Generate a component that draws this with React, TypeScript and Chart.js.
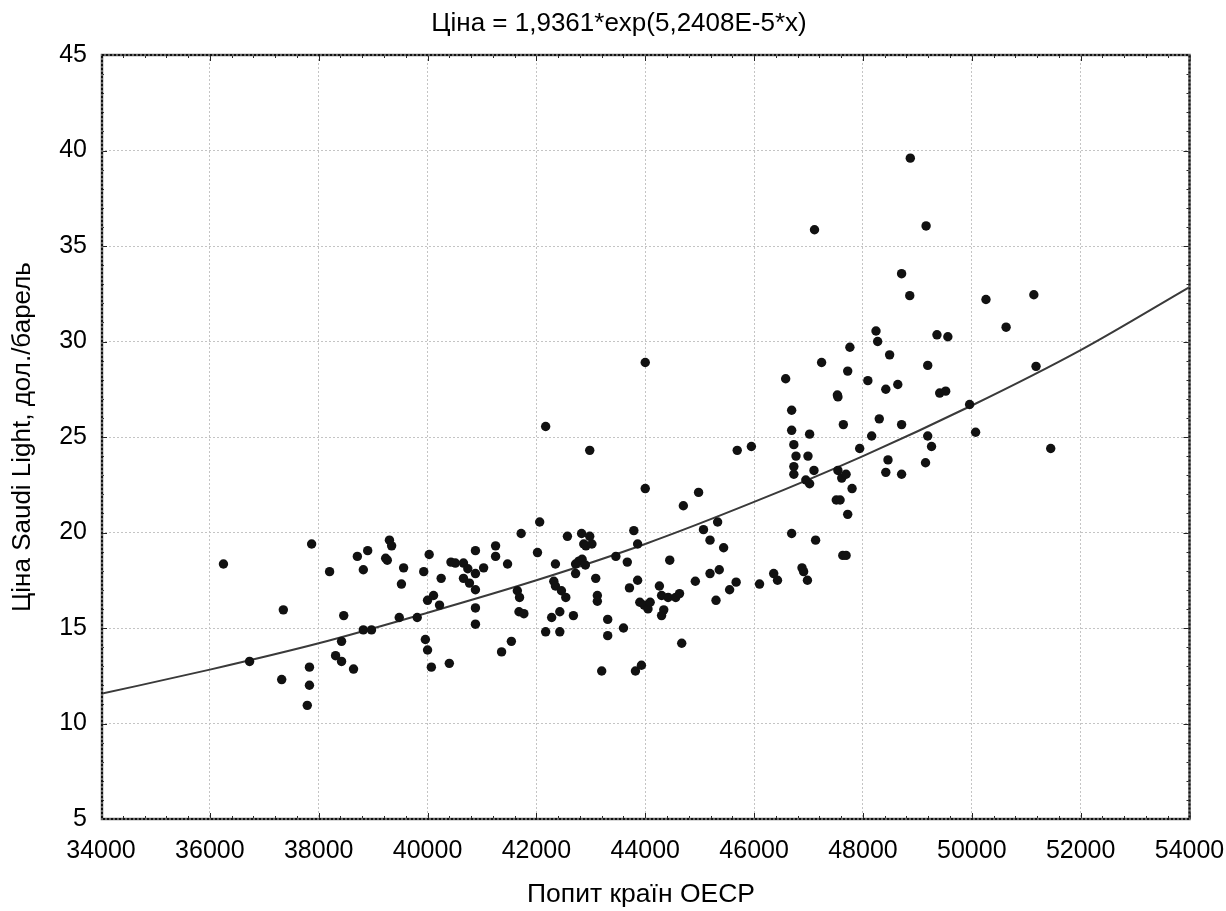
import React, { useEffect, useRef } from 'react';
import { Chart, registerables } from 'chart.js';

Chart.register(...registerables);

// Observed points: OECD demand (x) and Saudi Light price (y)
const demandOECD: number[] = [
  36250, 37870, 37350, 36730, 37320, 37830, 37830, 37790, 38200, 38710,
  38900, 38820, 39300, 39340, 39230, 39260, 39560, 39520, 40030, 39930,
  40250, 40430, 40510, 40660, 38460, 38420, 38310, 38420, 38640, 38820,
  38970, 39480, 39810, 40000, 40110, 40220, 39960, 40000, 40070, 40400,
  42170, 42980, 44000, 44980, 44700, 42060, 41720, 42570, 42830, 42980,
  42870, 42910, 43020, 43790, 43860, 41250, 40880, 42020, 41250, 40660,
  40740, 41030, 41470, 42350, 40880, 40770, 40880, 42720, 42780, 42840,
  42900, 42720, 43090, 43460, 43670, 44450, 44920, 42320, 42350, 42460,
  42540, 41650, 41690, 41680, 41770, 40880, 40880, 42430, 42280, 42680,
  43120, 43120, 43710, 43860, 44260, 43900, 43980, 44050, 44090, 44300,
  44420, 44560, 44630, 44340, 44300, 42170, 42430, 43310, 43310, 43600,
  44670, 41540, 41360, 43200, 43820, 43930, 44000,
  48710, 48860, 49360, 48240, 48270, 47760, 48490, 47240, 49190, 47720,
  46580, 48090, 48420, 48640, 49410, 47530, 47540, 46690, 47640, 48300,
  48710, 46690, 47020, 48160, 49190, 46730, 47940, 49260, 46770, 46990,
  46730, 46730, 47100, 47540, 48460, 49150, 48420, 48710, 47610, 47690,
  46950, 47020, 47800, 47510, 47580, 47720, 45690, 45950, 45330, 45070,
  45190, 45440, 46690, 47130, 47630, 47690, 45190, 45360, 45300, 45550,
  45670, 46100, 46360, 46430, 46880, 46910, 46980,
  49160, 47110, 48870, 50260, 51140, 50630, 49560, 51180, 49520, 49960,
  50070, 51450,
];

const priceSaudi: number[] = [
  18.35, 19.4, 15.95, 13.25, 12.3, 12.95, 12.0, 10.95, 17.95, 18.75,
  19.05, 18.05, 19.6, 19.3, 18.65, 18.55, 18.15, 17.3, 18.85, 17.95,
  17.6, 18.45, 18.4, 17.6, 15.65, 14.3, 13.55, 13.25, 12.85, 14.9,
  14.9, 15.55, 15.55, 16.45, 16.7, 16.2, 14.4, 13.85, 12.95, 13.15,
  25.55, 24.3, 22.3, 22.1, 21.4, 20.55, 19.95, 19.8, 19.95, 19.8,
  19.4, 19.3, 19.4, 20.1, 19.4, 19.3, 19.05, 18.95, 18.75, 18.4,
  18.1, 18.15, 18.35, 18.35, 17.85, 17.35, 17.0, 18.35, 18.5, 18.6,
  18.3, 17.85, 17.6, 18.75, 18.45, 18.55, 17.45, 17.45, 17.2, 16.95,
  16.6, 16.95, 16.6, 15.85, 15.75, 16.05, 15.2, 15.85, 15.55, 15.65,
  16.7, 16.4, 17.1, 17.5, 17.2, 16.35, 16.2, 16.0, 16.35, 16.7,
  16.6, 16.6, 16.8, 15.95, 15.65, 14.8, 14.8, 15.45, 14.6, 15.0,
  14.2, 14.3, 13.75, 12.75, 12.75, 13.05, 28.9,
  33.55, 32.4, 30.35, 30.55, 30.0, 29.7, 29.3, 28.9, 28.75, 28.45,
  28.05, 27.95, 27.5, 27.75, 27.3, 27.2, 27.1, 26.4, 25.65, 25.95,
  25.65, 25.35, 25.15, 25.05, 25.05, 24.6, 24.4, 24.5, 24.0, 24.0,
  23.45, 23.05, 23.25, 23.25, 23.8, 23.65, 23.15, 23.05, 22.85, 23.05,
  22.75, 22.55, 22.3, 21.7, 21.7, 20.95, 24.3, 24.5, 20.55, 20.15,
  19.6, 19.2, 19.95, 19.6, 18.8, 18.8, 17.85, 18.05, 16.45, 17.0,
  17.4, 17.3, 17.85, 17.5, 18.15, 17.95, 17.5,
  36.05, 35.85, 39.6, 32.2, 32.45, 30.75, 30.25, 28.7, 27.4, 26.7,
  25.25, 24.4,
];

// Fitted curve, values at each major x tick
const fitDemand: number[] = [34000, 36000, 38000, 40000, 42000, 44000, 46000, 48000, 50000, 52000, 54000];
const fitPrice: number[] = [11.55, 12.82, 14.2, 15.8, 17.5, 19.4, 21.6, 24.0, 26.65, 29.55, 32.85];

const xTickValues: number[] = [34000, 36000, 38000, 40000, 42000, 44000, 46000, 48000, 50000, 52000, 54000];
const yTickValues: number[] = [5, 10, 15, 20, 25, 30, 35, 40, 45];

const TITLE = 'Ціна = 1,9361*exp(5,2408E-5*x)';
const X_TITLE = 'Попит країн OECP';
const Y_TITLE = 'Ціна Saudi Light, дол./барель';

const FONT = '"Liberation Sans", Arial, Helvetica, sans-serif';
const X_MINOR = 400;
const Y_MINOR = 1;

const framePlugin = {
  id: 'statFrame',
  afterDatasetsDraw(chart: any) {
    const { ctx, chartArea } = chart;
    const { left, right, top, bottom } = chartArea;
    const xs = chart.scales.x;
    const ys = chart.scales.y;
    ctx.save();
    ctx.strokeStyle = '#222';
    ctx.lineWidth = 1;
    ctx.setLineDash([]);
    const xMin = xTickValues[0];
    const xMax = xTickValues[xTickValues.length - 1];
    for (let v = xMin; v <= xMax + 1e-6; v += X_MINOR) {
      const px = Math.round(xs.getPixelForValue(v)) + 0.5;
      const major = xTickValues.includes(Math.round(v));
      const len = major ? 6 : 3;
      ctx.beginPath();
      ctx.moveTo(px, top);
      ctx.lineTo(px, top + len);
      ctx.moveTo(px, bottom);
      ctx.lineTo(px, bottom - len);
      ctx.stroke();
    }
    const yMin = yTickValues[0];
    const yMax = yTickValues[yTickValues.length - 1];
    for (let v = yMin; v <= yMax + 1e-6; v += Y_MINOR) {
      const py = Math.round(ys.getPixelForValue(v)) + 0.5;
      const major = yTickValues.includes(Math.round(v));
      const len = major ? 6 : 3;
      ctx.beginPath();
      ctx.moveTo(left, py);
      ctx.lineTo(left + len, py);
      ctx.moveTo(right, py);
      ctx.lineTo(right - len, py);
      ctx.stroke();
    }
    ctx.lineWidth = 2.5;
    ctx.strokeStyle = '#666';
    ctx.strokeRect(left + 1, top, right - left - 1, bottom - top);
    ctx.strokeStyle = '#111';
    ctx.lineWidth = 2;
    ctx.setLineDash([2, 2]);
    ctx.strokeRect(left + 1, top, right - left - 1, bottom - top);
    ctx.restore();
  },
  afterDraw(chart: any) {
    const { ctx, chartArea } = chart;
    const { top, bottom } = chartArea;
    ctx.save();
    ctx.fillStyle = '#000';
    ctx.textBaseline = 'middle';
    ctx.textAlign = 'center';
    ctx.font = `26px ${FONT}`;
    ctx.fillText(TITLE, 619, 24);
    ctx.font = `26.5px ${FONT}`;
    ctx.fillText(X_TITLE, 641, 895);
    ctx.font = `26px ${FONT}`;
    ctx.translate(23, (top + bottom) / 2);
    ctx.rotate(-Math.PI / 2);
    ctx.fillText(Y_TITLE, 0, 0);
    ctx.restore();
  },
};

export default function App() {
  const canvasRef = useRef<HTMLCanvasElement | null>(null);

  useEffect(() => {
    const canvas = canvasRef.current;
    if (!canvas) return;
    const points = demandOECD.map((x, i) => ({ x, y: priceSaudi[i] }));
    const curve = fitDemand.map((x, i) => ({ x, y: fitPrice[i] }));

    const chart = new Chart(canvas, {
      type: 'scatter',
      data: {
        datasets: [
          {
            label: 'fit',
            data: curve,
            showLine: true,
            borderColor: '#3a3a3a',
            borderWidth: 2,
            pointRadius: 0,
            cubicInterpolationMode: 'monotone',
            fill: false,
            order: 2,
          } as any,
          {
            label: 'data',
            data: points,
            backgroundColor: '#111',
            borderColor: '#111',
            borderWidth: 0,
            pointRadius: 4.7,
            order: 1,
          },
        ],
      },
      options: {
        responsive: false,
        animation: false,
        events: [],
        layout: { padding: { top: 55, right: 36.5, left: 0, bottom: 0 } },
        plugins: {
          legend: { display: false },
          tooltip: { enabled: false },
          title: { display: false },
        },
        scales: {
          x: {
            type: 'linear',
            min: 34000,
            max: 54000,
            afterBuildTicks: (s: any) => {
              s.ticks = xTickValues.map((v) => ({ value: v }));
            },
            afterFit: (s: any) => {
              s.height = 92;
              s.paddingLeft = 0;
              s.paddingRight = 0;
            },
            ticks: {
              autoSkip: false,
              maxRotation: 0,
              padding: 17,
              color: '#000',
              font: { family: FONT, size: 25 },
              callback: (v: any) => String(v),
            },
            grid: { color: '#c4c4c4', lineWidth: 1, drawTicks: false },
            border: { display: false, dash: [2, 2] },
          },
          y: {
            type: 'linear',
            min: 5,
            max: 45,
            afterBuildTicks: (s: any) => {
              s.ticks = yTickValues.map((v) => ({ value: v }));
            },
            afterFit: (s: any) => {
              s.width = 101;
              s.paddingTop = 0;
              s.paddingBottom = 0;
            },
            ticks: {
              padding: 14,
              color: '#000',
              font: { family: FONT, size: 25 },
              callback: (v: any) => String(v),
            },
            grid: { color: '#c4c4c4', lineWidth: 1, drawTicks: false },
            border: { display: false, dash: [2, 2] },
          },
        },
      },
      plugins: [framePlugin],
    });
    return () => chart.destroy();
  }, []);

  return (
    <div style={{ position: 'fixed', left: 0, top: 0, width: 1226, height: 911, background: '#fff' }}>
      <canvas ref={canvasRef} width={1226} height={911} style={{ display: 'block' }} />
    </div>
  );
}
